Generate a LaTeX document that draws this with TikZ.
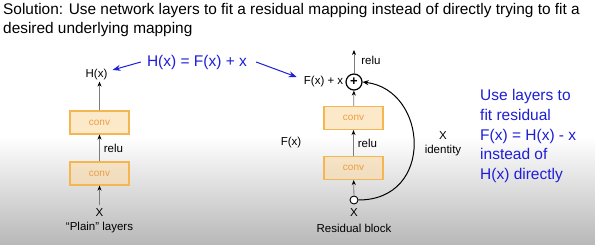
\documentclass[tikz,border=0pt]{standalone}
\usepackage{fontspec}
\setmainfont{Liberation Sans}
\usetikzlibrary{arrows.meta,positioning}
\definecolor{convline}{RGB}{245,182,82}
\definecolor{convfill}{RGB}{251,215,160}
\definecolor{convtext}{RGB}{236,158,64}
\definecolor{eqblue}{RGB}{30,30,215}
\definecolor{wire}{RGB}{125,125,125}
\begin{document}
\begin{tikzpicture}[x=1pt,y=-1pt,
  lbl/.style={font=\fontsize{11.5}{14}\selectfont, text=black, inner sep=1pt},
  conv/.style={draw=convline, line width=1.1pt, fill=convfill, fill opacity=0.55,
    text opacity=1, text=convtext, minimum width=59pt, minimum height=23pt,
    inner sep=0pt, font=\fontsize{10}{12}\selectfont},
  fwd/.style={-{Stealth[length=5pt,width=4pt,color=black]}, wire, line width=0.8pt},
  blu/.style={-{Stealth[length=8pt,width=6pt]}, eqblue, line width=1pt},
  eq/.style={text=eqblue, font=\fontsize{15.5}{19.8}\selectfont, inner sep=0pt}]
  \useasboundingbox (0,0) rectangle (595,245);
  % background
  \fill[white] (0,0) rectangle (595,137);
  \shade[top color=white, bottom color=black!28] (0,137) rectangle (595,245);
  \node[anchor=north west, align=left, inner sep=0pt,
    font=\fontsize{15.4}{18.5}\selectfont] (title) at (3,3.5)
    {Solution: Use network layers to fit a residual mapping instead of directly trying to fit a\\
     desired underlying mapping};

  % plain layers
  \node[conv] (pc1) at (99.5,173.5) {conv};
  \node[conv] (pc2) at (99.5,122.5) {conv};
  \node[lbl] (px) at (99.5,213) {X};
  \node[lbl] (plain) at (99.5,228) {``Plain'' layers};
  \node[lbl] (ph) at (96.5,75) {H(x)};
  \draw[fwd, shorten <=3pt] (px) -- (pc1);
  \draw[fwd] (pc1) -- node[lbl, right=3pt] {relu} (pc2);
  \draw[fwd] (pc2.north) -- (pc2.north |- ph.south);

  % residual block
  \node[conv] (rc1) at (353.5,168) {conv};
  \node[conv] (rc2) at (353.5,118) {conv};
  \node[draw, circle, line width=0.9pt, fill=white, minimum size=8pt, inner sep=0pt] (rin) at (354,200) {};
  \node[lbl] (rx) at (354,213) {X};
  \node[lbl] (res) at (354,228) {Residual block};
  \node[draw, circle, line width=1.2pt, minimum size=16pt, inner sep=0pt,
    font=\fontsize{13}{13}\selectfont\bfseries] (plus) at (354,82) {+};
  \node[lbl, left=1pt of plus] (fx) {F(x) + x};
  \coordinate (rout) at (354,50);
  \draw[fwd] (rin) -- (rc1);
  \draw[fwd] (rc1) -- node[lbl, right=3pt] {relu} (rc2);
  \draw[fwd] (rc2) -- (plus);
  \draw[fwd] (plus) -- node[lbl, right=6pt, pos=0.55] {relu} (rout);
  \node[lbl] (fxl) at (291,143) {F(x)};
  \draw[-{Stealth[length=6pt,width=5pt]}, line width=1pt]
    (rin.east) .. controls (435,200) and (428,90) .. (plus.east);
  \node[lbl, align=center] (idl) at (443,144) {X\\identity};

  % blue notes
  \node[eq] (eq) at (197,62) {H(x) = F(x) + x};
  \draw[blu] ([xshift=-6pt]eq.west) -- ([xshift=4pt,yshift=5pt]ph.east);
  \draw[blu] ([xshift=9pt]eq.east) -- ([xshift=-6pt,yshift=5pt]fx.west);
  \node[eq, anchor=north west, align=left] (note) at (480,89)
    {Use layers to\\fit residual\\F(x) = H(x) - x\\instead of\\H(x) directly};
\end{tikzpicture}
\end{document}
